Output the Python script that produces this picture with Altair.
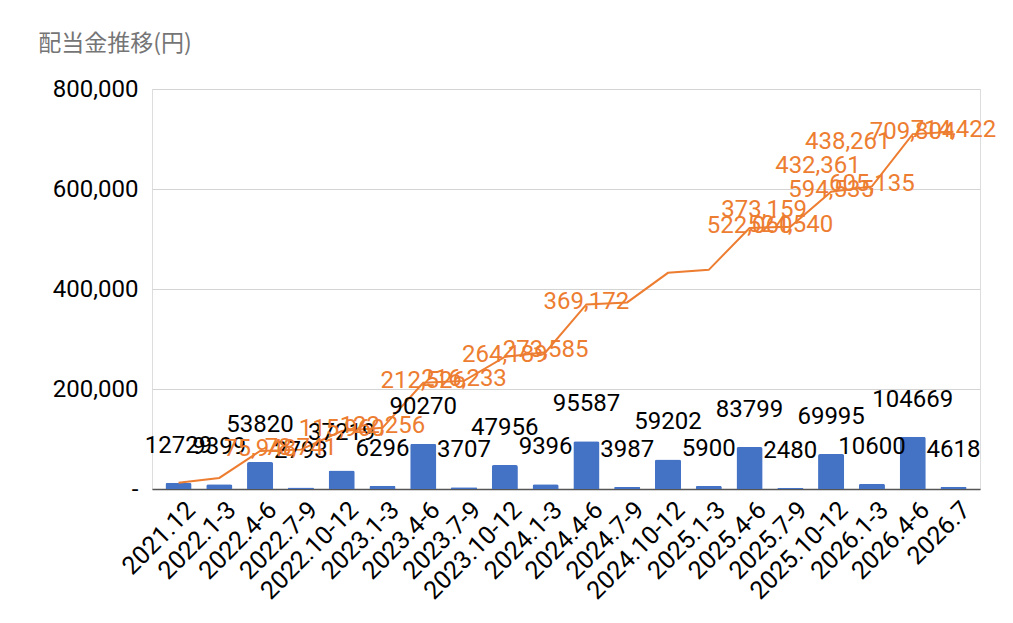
import altair as alt
import pandas as pd

categories = ["2021.12", "2022.1-3", "2022.4-6", "2022.7-9", "2022.10-12",
              "2023.1-3", "2023.4-6", "2023.7-9", "2023.10-12", "2024.1-3",
              "2024.4-6", "2024.7-9", "2024.10-12", "2025.1-3", "2025.4-6",
              "2025.7-9", "2025.10-12", "2026.1-3", "2026.4-6", "2026.7"]
dividends = [12729, 9399, 53820, 2793, 37219, 6296, 90270, 3707, 47956, 9396,
             95587, 3987, 59202, 5900, 83799, 2480, 69995, 10600, 104669, 4618]
cumulative = [12729, 22128, 75948, 78741, 115960, 122256, 212526, 216233, 264189, 273585,
              369172, 373159, 432361, 438261, 522060, 524540, 594535, 605135, 709804, 714422]
y_ticks = [0, 200000, 400000, 600000, 800000]
title_text = "配当金推移(円)"

# cumulative labels not shown in the reference
hidden_labels = ["2021.12", "2022.1-3"]
# labels that sit away from their points in the reference (style only)
moved_labels = {"2024.7-9": (137, -92), "2024.10-12": (150, -107), "2025.1-3": (139, -128)}

df = pd.DataFrame({"cat": categories, "div": dividends, "cum": cumulative})
df["cum_label"] = df["cum"].map(lambda v: f"{v:,}")
df["div_label"] = df["div"].map(str)

BLUE = "#4472C4"
ORANGE = "#ED7D31"
FONT = "Roboto"

x = alt.X("cat:N", sort=categories,
          scale=alt.Scale(paddingInner=0.36, paddingOuter=0.33),
          axis=alt.Axis(title=None, labelAngle=-45, labelFontSize=25, labelColor="#000",
                        labelFont=FONT, ticks=False, domainColor="#555", domainWidth=1.5,
                        labelPadding=8, labelOffset=4, grid=False))

yscale = alt.Scale(domain=[0, 800000])
yaxis = alt.Axis(values=y_ticks, labelExpr="datum.value == 0 ? '-' : format(datum.value, ',')",
                 title=None, ticks=False, domain=False, gridColor="#d4d4d4",
                 labelFontSize=24, labelPadding=14, labelColor="#000", labelFont=FONT)

base = alt.Chart(df)

bars = base.mark_bar(color=BLUE, cornerRadiusTopLeft=2, cornerRadiusTopRight=2).encode(
    x=x, y=alt.Y("div:Q", scale=yscale, axis=yaxis))

bar_labels = base.mark_text(font=FONT, fontSize=24, color="#000", baseline="middle",
                            align="center", dy=-37).encode(
    x=x, y=alt.Y("div:Q", scale=yscale), text="div_label:N")

line = base.mark_line(color=ORANGE, strokeWidth=2).encode(
    x=x, y=alt.Y("cum:Q", scale=yscale))

normal = [c for c in categories if c not in moved_labels and c not in hidden_labels]
line_labels = base.transform_filter(
    alt.FieldOneOfPredicate(field="cat", oneOf=normal)
).mark_text(font=FONT, fontSize=24, color=ORANGE, baseline="middle", align="center", dy=-2).encode(
    x=x, y=alt.Y("cum:Q", scale=yscale), text="cum_label:N")

layers = [bars, line, bar_labels, line_labels]
for cat, (ddx, ddy) in moved_labels.items():
    layers.append(base.transform_filter(alt.datum.cat == cat).mark_text(
        font=FONT, fontSize=24, color=ORANGE, baseline="middle", align="center",
        dx=ddx, dy=ddy).encode(x=x, y=alt.Y("cum:Q", scale=yscale), text="cum_label:N"))

chart = alt.layer(*layers).properties(
    width=828, height=400,
    title=alt.TitleParams(title_text, anchor="start", fontSize=23, color="#757575",
                          font="Noto Sans CJK JP", fontWeight="normal", dx=-14, dy=-17),
    autosize=alt.AutoSizeParams(type="none"),
    padding={"left": 144, "top": 81, "right": 20, "bottom": 120},
).configure_view(stroke=None).configure(background="white")

chart.save("out.html", embed_options={"renderer": "svg", "actions": False})
